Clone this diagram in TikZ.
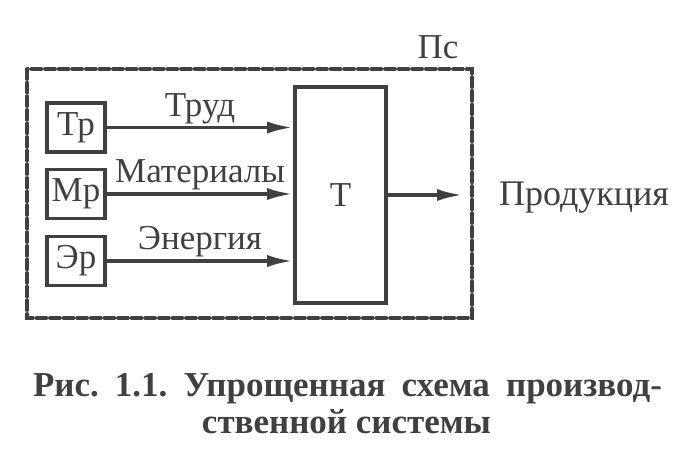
\documentclass[tikz,border=0pt]{standalone}
\usepackage{fontspec}
\setmainfont{Liberation Serif}
\usetikzlibrary{arrows.meta}
\definecolor{ink}{gray}{0.25}
\tikzset{
  res/.style={draw=ink, line width=1.8pt, minimum width=29pt, minimum height=24.5pt, inner sep=0pt},
  flow/.style={-{Latex[length=13pt,width=6pt]}, draw=ink, line width=1.8pt},
  lbl/.style={text=ink, font=\fontsize{17.5}{20}\selectfont},
  capt/.style={text=ink, font=\bfseries\fontsize{17.5}{19}\selectfont\frenchspacing, anchor=base, inner sep=0pt},
}

\begin{document}
\begin{tikzpicture}[x=0.5pt,y=-0.5pt,line cap=round]
            \useasboundingbox (0,0) rectangle (684,471);
            \draw[ink, line width=1.8pt, dash pattern=on 5pt off 1.8pt] (27,69) rectangle (472,318);  %Пс
            \node[lbl, anchor=base] (ps) at (438,58) {Пс};
            \node[res, lbl] (tr) at (76,127.5) {Тр};    %Тр
            \node[res, lbl] (mr) at (76,194) {Мр};      %Мр
            \node[res, lbl] (er) at (76,261) {Эр};      %Эр
            \node[lbl, draw=ink, line width=1.8pt, minimum width=45.5pt, minimum height=108pt] (t) at (340.5,195) {Т};
            \draw[flow] (tr) -- (tr -| t.west) node[midway, above=1pt, lbl, inner sep=0pt] {Труд};
            \draw[flow] (mr) -- (mr -| t.west) node[midway, above=1pt, lbl, inner sep=0pt] {Материалы};
            \draw[flow] (er) -- (er -| t.west) node[midway, above=1pt, lbl, inner sep=0pt] {Энергия};
            \coordinate (out) at (463,195);
            \draw[flow] (t.east |- out) -- (out);        % T -> out
            \node[lbl, font=\fontsize{18}{20}\selectfont, anchor=base west] (prod) at (492,205) {Продукция};
            \node[capt] (cap1) at (347.5,396) {\makebox[314.5pt][s]{Рис. 1.1. Упрощенная схема производ-}};
            \node[capt] (cap2) at (346.5,433) {ственной системы};
\end{tikzpicture}
\end{document}
